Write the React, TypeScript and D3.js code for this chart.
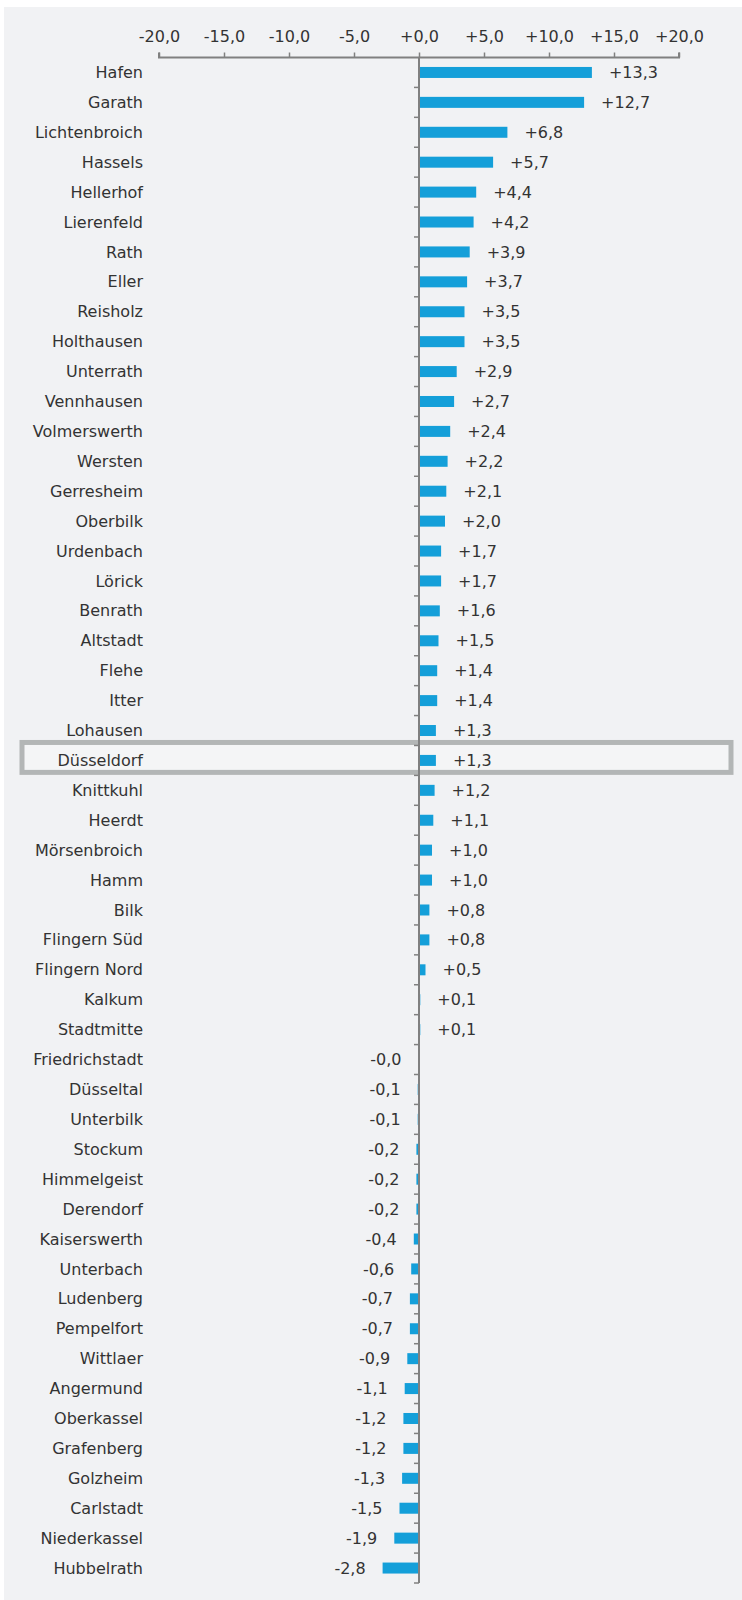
import * as d3 from 'd3'
import { useEffect, useRef } from 'react'

const districts = [
  'Hafen', 'Garath', 'Lichtenbroich', 'Hassels', 'Hellerhof', 'Lierenfeld', 'Rath', 'Eller',
  'Reisholz', 'Holthausen', 'Unterrath', 'Vennhausen', 'Volmerswerth', 'Wersten', 'Gerresheim',
  'Oberbilk', 'Urdenbach', 'Lörick', 'Benrath', 'Altstadt', 'Flehe', 'Itter', 'Lohausen',
  'Düsseldorf', 'Knittkuhl', 'Heerdt', 'Mörsenbroich', 'Hamm', 'Bilk', 'Flingern Süd',
  'Flingern Nord', 'Kalkum', 'Stadtmitte', 'Friedrichstadt', 'Düsseltal', 'Unterbilk', 'Stockum',
  'Himmelgeist', 'Derendorf', 'Kaiserswerth', 'Unterbach', 'Ludenberg', 'Pempelfort', 'Wittlaer',
  'Angermund', 'Oberkassel', 'Grafenberg', 'Golzheim', 'Carlstadt', 'Niederkassel', 'Hubbelrath',
]

const changes = [
  13.3, 12.7, 6.8, 5.7, 4.4, 4.2, 3.9, 3.7,
  3.5, 3.5, 2.9, 2.7, 2.4, 2.2, 2.1,
  2.0, 1.7, 1.7, 1.6, 1.5, 1.4, 1.4, 1.3,
  1.3, 1.2, 1.1, 1.0, 1.0, 0.8, 0.8,
  0.5, 0.1, 0.1, -0.04, -0.1, -0.1, -0.2,
  -0.2, -0.2, -0.4, -0.6, -0.7, -0.7, -0.9,
  -1.1, -1.2, -1.2, -1.3, -1.5, -1.9, -2.8,
]

const xTicks = [-20, -15, -10, -5, 0, 5, 10, 15, 20]
const highlight = 'Düsseldorf'

const fmt = (v: number) => (v < 0 ? '-' : '+') + Math.abs(v).toFixed(1).replace('.', ',')

export default function App() {
  const width = 742
  const height = 1600
  const marginLeft = 159
  const marginRight = 63
  const marginTop = 57.5
  const marginBottom = 17
  const font = '"DejaVu Sans", Verdana, sans-serif'
  const textColor = '#333333'
  const axisColor = '#808080'

  const x = d3.scaleLinear([-20, 20], [marginLeft, width - marginRight])
  const y = d3.scaleBand(districts, [marginTop, height - marginBottom]).paddingInner(0).paddingOuter(0)
  const barH = 11

  const gx = useRef<SVGGElement>(null)

  useEffect(() => {
    const axis = d3.axisTop(x).tickValues(xTicks).tickSize(5).tickFormat((d) => fmt(+d))
    const g = d3.select(gx.current as SVGGElement).call(axis)
    g.select('.domain').attr('stroke', axisColor).attr('stroke-width', 2).attr('d', `M${x(-20)},-5V0H${x(20)}V-5`)
    g.selectAll('.tick line').attr('stroke', axisColor).attr('stroke-width', 1.5)
    g.selectAll('.tick text')
      .attr('fill', textColor)
      .attr('font-size', 16)
      .attr('font-family', font)
      .attr('y', -21)
      .attr('dy', '0.32em')
  }, [])

  const boundaries = districts.map((d) => (y(d) as number) + y.bandwidth())
  const hy = y(highlight) as number

  return (
    <svg width={width} height={height} style={{ position: 'absolute', left: 0, top: 0 }}>
      <rect x={4} y={7} width={width - 4} height={height - 7} fill="#f1f2f4" />
      <rect
        x={22}
        y={hy - 3}
        width={709}
        height={y.bandwidth()}
        fill="#f4f5f6"
        stroke="#b3b6b6"
        strokeWidth={5}
      />
      <g>
        {districts.map((d, i) => {
          const v = changes[i]
          const x0 = x(Math.min(0, v))
          const x1 = x(Math.max(0, v))
          const cy = (y(d) as number) + y.bandwidth() / 2
          return (
            <g key={d}>
              <rect x={x0} y={cy - barH / 2} width={x1 - x0} height={barH} fill="#149fd9" />
              <text
                x={143}
                y={cy}
                dy="0.35em"
                textAnchor="end"
                fontSize={16}
                fontFamily={font}
                fill={textColor}
              >
                {d}
              </text>
              <text
                x={v < 0 ? x0 - 17 : x1 + 17}
                y={cy}
                dy="0.35em"
                textAnchor={v < 0 ? 'end' : 'start'}
                fontSize={16}
                fontFamily={font}
                fill={textColor}
              >
                {fmt(v)}
              </text>
            </g>
          )
        })}
      </g>
      <line x1={x(0)} x2={x(0)} y1={marginTop} y2={height - marginBottom} stroke={axisColor} strokeWidth={2} />
      {boundaries.map((b, i) => (
        <line key={i} x1={x(0) - 5} x2={x(0)} y1={b} y2={b} stroke={axisColor} strokeWidth={1.5} />
      ))}
      <g ref={gx} transform={`translate(0,${marginTop})`} />
    </svg>
  )
}
